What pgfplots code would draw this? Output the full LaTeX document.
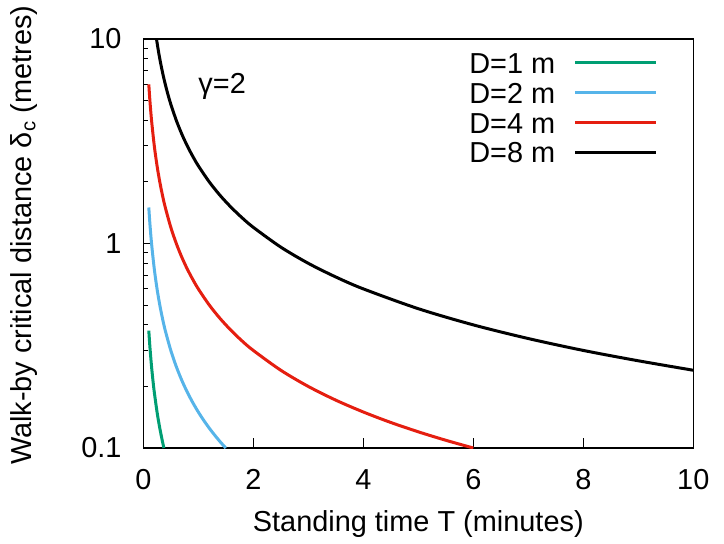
\documentclass[border=0pt]{standalone}
\usepackage{fontspec}
\setmainfont{Liberation Sans}
\usepackage{pgfplots}
\pgfplotsset{compat=1.18}
\definecolor{cgreen}{RGB}{0,158,115}
\definecolor{cblue}{RGB}{86,180,233}
\definecolor{cred}{RGB}{229,30,16}
\newcommand{\fs}{\fontsize{29}{30}\selectfont}
\begin{document}
\begin{tikzpicture}
\begin{axis}[
  scale only axis, width=550bp, height=409bp,
  xmin=0, xmax=10, ymode=log, ymin=0.1, ymax=10,
  xtick={0,2,4,6,8,10},
  ytick={0.1,1,10}, yticklabels={0.1,1,10},
  tick pos=left, tick align=inside,
  major tick length=10bp, minor tick length=5bp,
  every tick/.style={black, line width=1bp},
  axis line style={line width=1.2bp},
  /pgf/number format/assume math mode=true,
  tick label style={font=\fs, inner sep=0pt},
  xticklabel style={anchor=north, yshift=-21.3bp},
  yticklabel style={anchor=east, xshift=-21.6bp},
  label style={font=\fs},
  xlabel={Standing time T (minutes)},
  xlabel style={at={([yshift=-83.7bp]axis description cs:0.5,0)}, anchor=base, inner sep=0pt},
  ylabel={Walk-by critical distance δ\textsubscript{c} (metres)},
  ylabel style={at={([xshift=-111.6bp]axis description cs:0,0.52)}, anchor=base, inner sep=0pt},
  legend plot pos=right,
  legend image code/.code={\draw[#1] (0bp,0bp) -- (81bp,0bp);},
  legend style={draw=none, fill=none, inner sep=0pt, at={(0.936,0.967)}, anchor=north east,
    font=\fs, row sep=9.4bp,
    nodes={inner sep=0pt, text height=20.5bp, text depth=0bp},
    /tikz/every odd column/.append style={column sep=18.7bp}},
  legend cell align=right,
]
\addplot[cgreen, line width=3bp, smooth] coordinates {
(0.1,0.375) (0.12,0.3125) (0.15,0.25) (0.18,0.2083) (0.2,0.1875) (0.25,0.15) (0.3,0.125) (0.35,0.1071) (0.375,0.1)};
\addlegendentry{D=1 m}
\addplot[cblue, line width=3bp, smooth] coordinates {
(0.1,1.5) (0.12,1.25) (0.15,1.0) (0.2,0.75) (0.25,0.6) (0.3,0.5) (0.35,0.4286) (0.4,0.375) (0.5,0.3) (0.6,0.25) (0.7,0.2143) (0.8,0.1875) (0.9,0.1667) (1.0,0.15) (1.1,0.1364) (1.2,0.125) (1.3,0.1154) (1.4,0.1071) (1.5,0.1)};
\addlegendentry{D=2 m}
\addplot[cred, line width=3bp, smooth] coordinates {
(0.1,6) (0.12,5) (0.15,4) (0.2,3) (0.25,2.4) (0.3,2) (0.35,1.714) (0.4,1.5) (0.5,1.2) (0.6,1.0) (0.7,0.857) (0.8,0.75) (0.9,0.667) (1.0,0.6) (1.2,0.5) (1.4,0.4286) (1.6,0.375) (1.8,0.333) (2.0,0.3) (2.5,0.24) (3.0,0.2) (3.5,0.1714) (4.0,0.15) (4.5,0.1333) (5.0,0.12) (5.5,0.1091) (6.0,0.1)};
\addlegendentry{D=4 m}
\addplot[black, line width=3bp, smooth] coordinates {
(0.24,10) (0.27,8.889) (0.3,8) (0.35,6.857) (0.4,6) (0.45,5.333) (0.5,4.8) (0.6,4) (0.7,3.429) (0.8,3) (0.9,2.667) (1.0,2.4) (1.2,2.0) (1.4,1.714) (1.6,1.5) (1.8,1.333) (2.0,1.2) (2.5,0.96) (3.0,0.8) (3.5,0.686) (4.0,0.6) (5.0,0.48) (6.0,0.4) (7.0,0.343) (8.0,0.3) (9.0,0.267) (10.0,0.24)};
\addlegendentry{D=8 m}
\node[anchor=base west, font=\fs, inner sep=0pt] at (axis cs:1.0,5.43) {γ=2};
\end{axis}
\path ([shift={(-143.3bp,-96bp)}]current axis.south west) rectangle ([shift={(30.7bp,39bp)}]current axis.north east);
\end{tikzpicture}
\end{document}
